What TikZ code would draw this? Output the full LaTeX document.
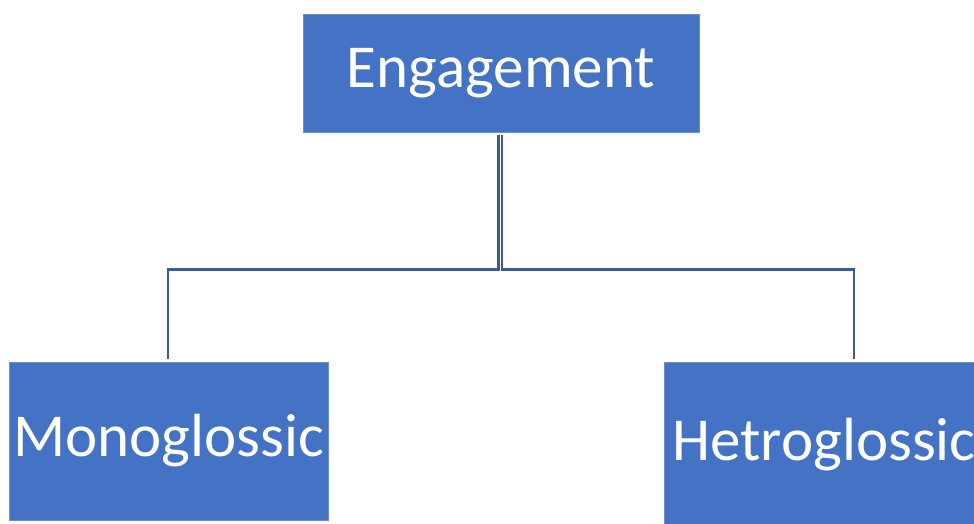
\documentclass[tikz,border=0pt]{standalone}
\usepackage{fontspec}
\setmainfont{Carlito}
\usetikzlibrary{calc}
\definecolor{boxfill}{HTML}{4472C4}
\definecolor{boxedge}{HTML}{6E8FCF}
\definecolor{linkcol}{HTML}{3A5B9E}
\tikzset{
  box/.style={rectangle, fill=boxfill, draw=boxedge, line width=0.8pt,
    text=white, font=\fontsize{61}{63}\selectfont, inner sep=0pt, anchor=center},
  link/.style={draw=linkcol, line width=2.2pt}
}
\begin{document}
\begin{tikzpicture}[x=1pt,y=-1pt]
  \useasboundingbox (0,0) rectangle (974,524);
  \clip (0,0) rectangle (974,524);
  % parent and child boxes
  \node[box, minimum width=396pt, minimum height=118pt] (eng) at (501,73) {Engagement};
  \node[box, minimum width=319pt, minimum height=158pt] (mono) at (168.5,441) {Monoglossic};
  \node[box, inner xsep=8pt, minimum height=164pt, anchor=north west] (het) at (664,362) {Hetroglossic};
  % drop points on the children's top edges
  \coordinate (monotop) at ($(mono.north west)+(159,0)$);
  \coordinate (hettop) at ($(het.north west)+(190,0)$);
  % tree connectors
  \draw[link, shorten <=3pt, shorten >=3pt] ($(eng.south)+(-2.5,0)$) -- ($(eng.south)+(-2.5,137)$) -| (monotop);
  \draw[link, shorten <=3pt, shorten >=3pt] ($(eng.south)+(1,0)$) -- ($(eng.south)+(1,137)$) -| (hettop);
\end{tikzpicture}
\end{document}
